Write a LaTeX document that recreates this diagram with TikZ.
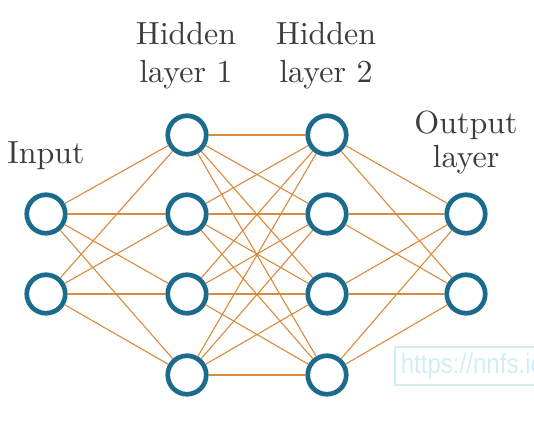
\documentclass[tikz,border=0pt]{standalone}
\usepackage{fontspec}
\setmainfont{lmroman10}[Extension=.otf, UprightFont=*-regular]
\newfontfamily\wmfont[FakeStretch=0.86]{Liberation Sans}
\definecolor{nblue}{HTML}{1C6B8C}
\definecolor{norange}{HTML}{DA8A3C}
\definecolor{ltext}{HTML}{3C3C3C}
\definecolor{wmcol}{HTML}{D3EEF3}
\begin{document}
\begin{tikzpicture}[x=1pt,y=-1pt,
  neuron/.style={circle, draw=nblue, line width=4.7pt, minimum size=38.5pt, inner sep=0pt, fill=white},
  conn/.style={draw=norange, line width=1.1pt},
  lab/.style={text=ltext, font=\fontsize{32}{37}\selectfont, align=center, anchor=base, inner sep=0pt}]
\useasboundingbox (0,0) rectangle (534,425);
% nodes
\node[neuron] (i1) at (46,214) {};
\node[neuron] (i2) at (46,294) {};
\foreach \k/\y in {1/135,2/214,3/294,4/375}{
  \node[neuron] (a\k) at (187,\y) {};
  \node[neuron] (b\k) at (327,\y) {};
}
\node[neuron] (o1) at (466,214) {};
\node[neuron] (o2) at (466,294) {};
% connections
\foreach \i in {1,2}{\foreach \j in {1,2,3,4}{\draw[conn] (i\i) -- (a\j);}}
\foreach \i in {1,2,3,4}{\foreach \j in {1,2,3,4}{\draw[conn] (a\i) -- (b\j);}}
\foreach \i in {1,2,3,4}{\foreach \j in {1,2}{\draw[conn] (b\i) -- (o\j);}}
% labels (base = baseline of last line)
\node[lab] (tin) at (46,163) {Input};
\node[lab] (th1) at (186,82) {Hidden\\layer 1};
\node[lab] (th2) at (326,82) {Hidden\\layer 2};
\node[lab, font=\fontsize{32}{34}\selectfont] (tout) at (466,167) {Output\\layer};
% watermark
\begin{scope}
\clip (0,0) rectangle (534,425);
\node[draw=wmcol, line width=1.5pt, text=wmcol, font=\wmfont\fontsize{28}{30}\selectfont, anchor=west, inner sep=6pt, minimum height=38pt] (wm) at (394,366) {https://nnfs.io};
\end{scope}
\end{tikzpicture}
\end{document}
